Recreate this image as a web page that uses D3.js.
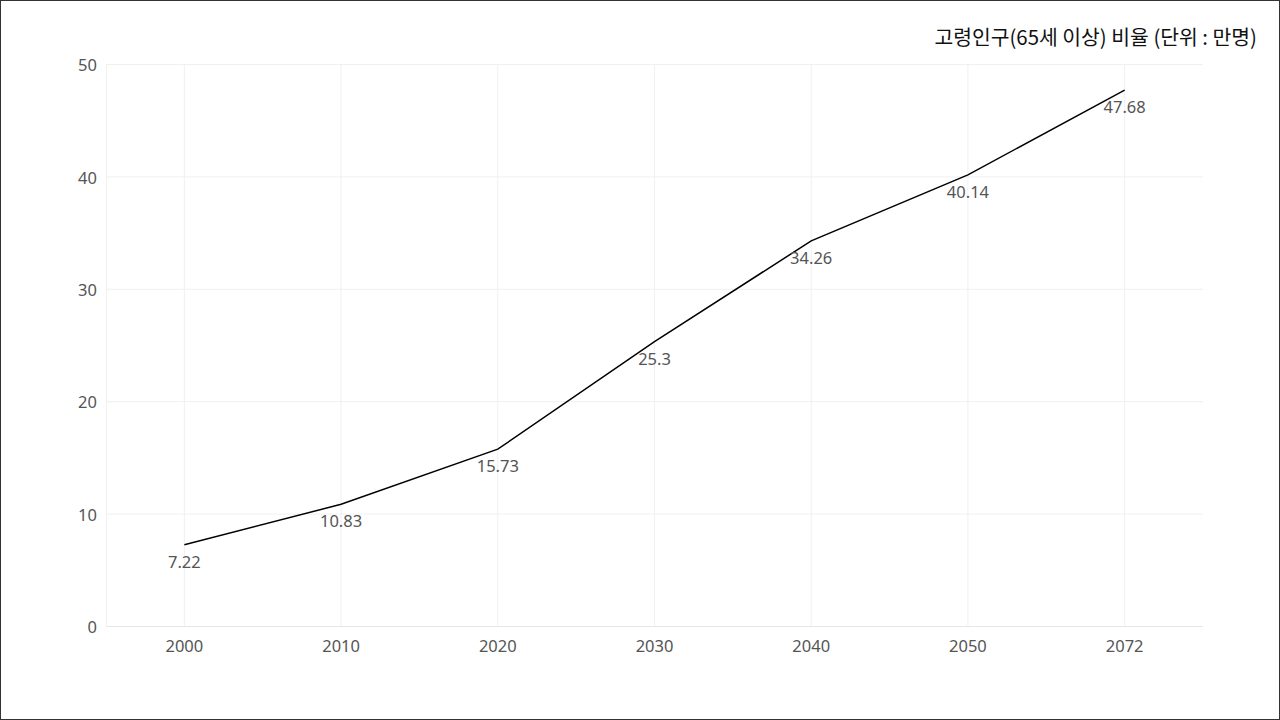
<!DOCTYPE html>
<html><head><meta charset="utf-8">
<script src="https://cdn.jsdelivr.net/npm/d3@7"></script>
<style>html,body{margin:0;padding:0;background:#fff;}svg{display:block;}</style>
</head><body>
<svg id="c" width="1280" height="720"></svg>
<script>
const years = ["2000","2010","2020","2030","2040","2050","2072"];
const values = [7.22, 10.83, 15.73, 25.3, 34.26, 40.14, 47.68];
const yTicks = [0, 10, 20, 30, 40, 50];
const title = "고령인구(65세 이상) 비율 (단위 : 만명)";

const svg = d3.select("#c");
const font = "'Noto Sans','Noto Sans CJK KR',sans-serif";
const cjk = "'Noto Sans CJK KR','Noto Sans',sans-serif";
const W = 1280, H = 720;
const m = {l:106, r:1203, t:64, b:626};

svg.append("rect").attr("x",0.5).attr("y",0.5).attr("width",W-1).attr("height",H-1)
  .attr("fill","#fff").attr("stroke","#333").attr("stroke-width",1);

const x = d3.scaleBand().domain(years).range([m.l, m.r]).paddingInner(0).paddingOuter(0);
const y = d3.scaleLinear().domain([0,50]).range([m.b, m.t]);
const cx = d => x(d) + x.bandwidth()/2;

// grid
svg.append("g").selectAll("line").data(yTicks).join("line")
  .attr("x1", m.l).attr("x2", m.r).attr("y1", d=>y(d)+0.5).attr("y2", d=>y(d)+0.5)
  .attr("stroke", d=> d===0 ? "#e6e6e6" : "#f0f0f0").attr("stroke-width",1);
svg.append("g").selectAll("line").data(years).join("line")
  .attr("x1", d=>cx(d)).attr("x2", d=>cx(d)).attr("y1", m.t).attr("y2", m.b)
  .attr("stroke","#f0f0f0").attr("stroke-width",1);
svg.append("line").attr("x1",m.l+0.5).attr("x2",m.l+0.5).attr("y1",m.t).attr("y2",m.b)
  .attr("stroke","#f0f0f0");

// axes
const yAxis = svg.append("g").attr("transform",`translate(${m.l-9},0)`)
  .call(d3.axisLeft(y).tickValues(yTicks).tickSize(0).tickPadding(0));
yAxis.select(".domain").remove();
yAxis.selectAll("text").attr("font-family",font).attr("font-size",16.5).attr("fill","#555").attr("dy","0.4em");

const xAxis = svg.append("g").attr("transform",`translate(0,${m.b+14})`)
  .call(d3.axisBottom(x).tickSize(0).tickPadding(0));
xAxis.select(".domain").remove();
xAxis.selectAll("text").attr("font-family",font).attr("font-size",16.5).attr("fill","#555").attr("dy","0.71em");

// line
const data = years.map((yr,i)=>({yr, v: values[i]}));
svg.append("path").datum(data)
  .attr("fill","none").attr("stroke","#000").attr("stroke-width",1.5)
  .attr("d", d3.line().x(d=>cx(d.yr)).y(d=>y(d.v)));

// labels
svg.append("g").selectAll("text").data(data).join("text")
  .attr("x", d=>cx(d.yr)).attr("y", d=>y(d.v)+23)
  .attr("text-anchor","middle").attr("font-family",font).attr("font-size",16.5).attr("fill","#555")
  .text(d=>d.v);

// title
svg.append("text").attr("x",1257).attr("y",45).attr("text-anchor","end")
  .attr("font-family",cjk).attr("font-size",20.4).attr("fill","#111").text(title);
</script>
</body></html>
